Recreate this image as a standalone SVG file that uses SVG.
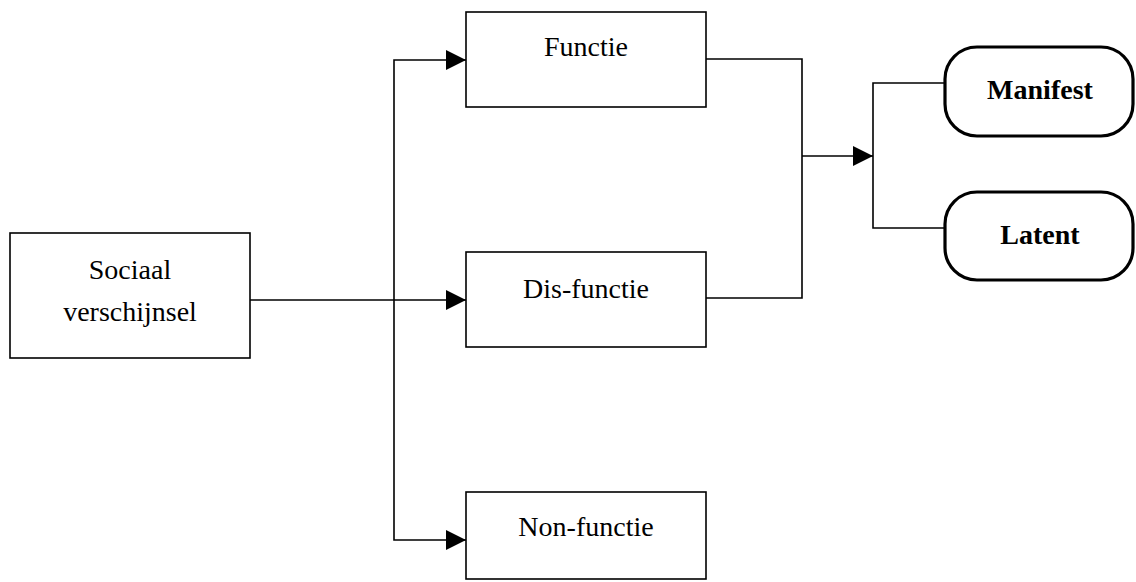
<svg xmlns="http://www.w3.org/2000/svg" width="1136" height="582" viewBox="0 0 1136 582">
<style>
.box{fill:#fff;stroke:#000;stroke-width:1.6}
.pill{fill:#fff;stroke:#000;stroke-width:3.2}
.ln{fill:none;stroke:#000;stroke-width:1.6}
text{font-family:"Liberation Serif","Times New Roman",serif;font-size:28px;fill:#000;text-anchor:middle}
.b{font-weight:bold}
</style>
<defs>
<marker id="ah" markerWidth="20" markerHeight="20" refX="20" refY="10" orient="auto" markerUnits="userSpaceOnUse">
<path d="M0,0 L20,10 L0,20 Z" fill="#000"/>
</marker>
</defs>
<g id="connectors">
<path class="ln" d="M250,300 H466" marker-end="url(#ah)"/>
<path class="ln" d="M394,300 V60 H466" marker-end="url(#ah)"/>
<path class="ln" d="M394,300 V540 H466" marker-end="url(#ah)"/>
<path class="ln" d="M706,59 H802 V298 H706"/>
<path class="ln" d="M802,156 H873" marker-end="url(#ah)"/>
<path class="ln" d="M945,83 H873 V228 H945"/>
</g>
<g id="sociaal">
<rect class="box" x="10" y="233" width="240" height="125"/>
<text x="130" y="279">Sociaal</text>
<text x="130" y="321">verschijnsel</text>
</g>
<g id="functie">
<rect class="box" x="466" y="12" width="240" height="95"/>
<text x="586" y="56">Functie</text>
</g>
<g id="disfunctie">
<rect class="box" x="466" y="252" width="240" height="95"/>
<text x="586" y="298">Dis-functie</text>
</g>
<g id="nonfunctie">
<rect class="box" x="466" y="492" width="240" height="87"/>
<text x="586" y="536">Non-functie</text>
</g>
<g id="manifest">
<rect class="pill" x="945" y="47" width="188" height="89" rx="32" ry="32"/>
<text class="b" x="1040" y="99">Manifest</text>
</g>
<g id="latent">
<rect class="pill" x="945" y="192" width="188" height="88" rx="32" ry="32"/>
<text class="b" x="1040" y="244">Latent</text>
</g>
</svg>
